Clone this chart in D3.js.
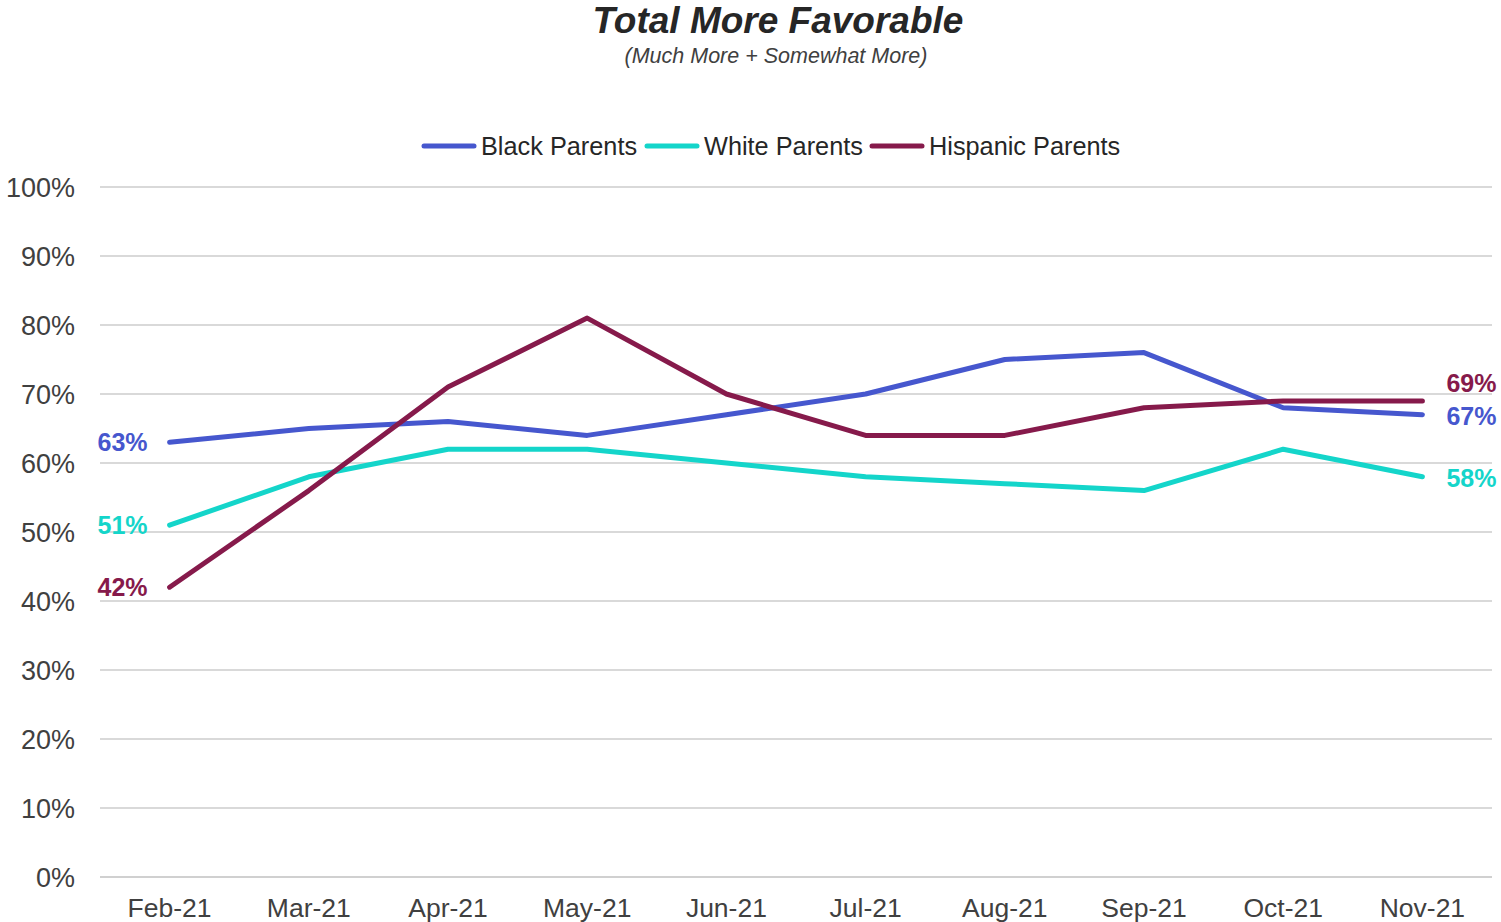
<!DOCTYPE html>
<html><head><meta charset="utf-8">
<script src="https://cdn.jsdelivr.net/npm/d3@7"></script>
<style>body{margin:0;background:#fff;font-family:"Liberation Sans",Arial,sans-serif;}</style>
</head><body>
<svg id="chart" width="1501" height="922"></svg>
<script>
const months = ["Feb-21","Mar-21","Apr-21","May-21","Jun-21","Jul-21","Aug-21","Sep-21","Oct-21","Nov-21"];
const blackParents = [63,65,66,64,67,70,75,76,68,67];
const whiteParents = [51,58,62,62,60,58,57,56,62,58];
const hispanicParents = [42,56,71,81,70,64,64,68,69,69];
const seriesNames = ["Black Parents","White Parents","Hispanic Parents"];
const yTicks = [0,10,20,30,40,50,60,70,80,90,100];

const colors = ["#4657CE","#14D5CA","#861A4B"];
const series = [blackParents, whiteParents, hispanicParents];

(function(){
const svg = d3.select("#chart");
const pl = 100, pr = 1492, pt = 187, pb = 877;
const x = d3.scaleBand().domain(months).range([pl,pr]);
const y = d3.scaleLinear().domain([0,100]).range([pb,pt]);
const cx = m => x(m) + x.bandwidth()/2;

// title
svg.append("text").attr("x",778).attr("y",33).attr("text-anchor","middle")
  .style("font-size","37px").style("font-weight","bold").style("font-style","italic").attr("fill","#262626")
  .text("Total More Favorable");
svg.append("text").attr("x",776).attr("y",63).attr("text-anchor","middle")
  .style("font-size","21.5px").style("font-style","italic").attr("fill","#404040")
  .text("(Much More + Somewhat More)");

// gridlines
svg.append("g").selectAll("line").data(yTicks).join("line")
  .attr("x1",pl).attr("x2",pr).attr("y1",d=>y(d)).attr("y2",d=>y(d))
  .attr("stroke",d=>d===0?"#d0d0d0":"#d9d9d9").attr("stroke-width",2);

// y axis labels
const yAxis = d3.axisLeft(y).tickValues(yTicks).tickFormat(d=>d+"%").tickSize(0).tickPadding(0);
const ya = svg.append("g").attr("transform",`translate(75,0)`).call(yAxis);
ya.select(".domain").remove();
ya.selectAll("text").style("font-size","27px").style("font-family","'Liberation Sans',Arial,sans-serif").attr("fill","#404040").attr("dy","0.35em");

// x axis labels
const xAxis = d3.axisBottom(x).tickSize(0).tickPadding(0);
const xa = svg.append("g").attr("transform",`translate(0,${pb+21})`).call(xAxis);
xa.select(".domain").remove();
xa.selectAll("text").style("font-size","26.5px").style("font-family","'Liberation Sans',Arial,sans-serif").attr("fill","#404040");

// lines
const line = d3.line().x((d,i)=>cx(months[i])).y(d=>y(d));
series.forEach((s,k)=>{
  svg.append("path").datum(s).attr("d",line).attr("fill","none")
    .attr("stroke",colors[k]).attr("stroke-width",5).attr("stroke-linejoin","round").attr("stroke-linecap","round");
});

// end labels
const firstOff = [0,0,0];
const lastOff = [2,1,-18];
series.forEach((s,k)=>{
  svg.append("text").attr("x",cx(months[0])-22).attr("y",y(s[0])+firstOff[k]).attr("dy","0.35em")
    .attr("text-anchor","end").style("font-size","25px").style("font-weight","bold").attr("fill",colors[k])
    .text(s[0]+"%");
  const n = s.length-1;
  svg.append("text").attr("x",cx(months[n])+24).attr("y",y(s[n])+lastOff[k]).attr("dy","0.35em")
    .attr("text-anchor","start").style("font-size","25px").style("font-weight","bold").attr("fill",colors[k])
    .text(s[n]+"%");
});

// legend
const legX = [422,645,870];
seriesNames.forEach((nm,k)=>{
  const g = svg.append("g");
  g.append("line").attr("x1",legX[k]+2).attr("x2",legX[k]+52).attr("y1",146).attr("y2",146)
    .attr("stroke",colors[k]).attr("stroke-width",5).attr("stroke-linecap","round");
  g.append("text").attr("x",legX[k]+59).attr("y",146).attr("dy","0.35em")
    .style("font-size","25.3px").attr("fill","#262626").text(nm);
});
})();
</script>
</body></html>
